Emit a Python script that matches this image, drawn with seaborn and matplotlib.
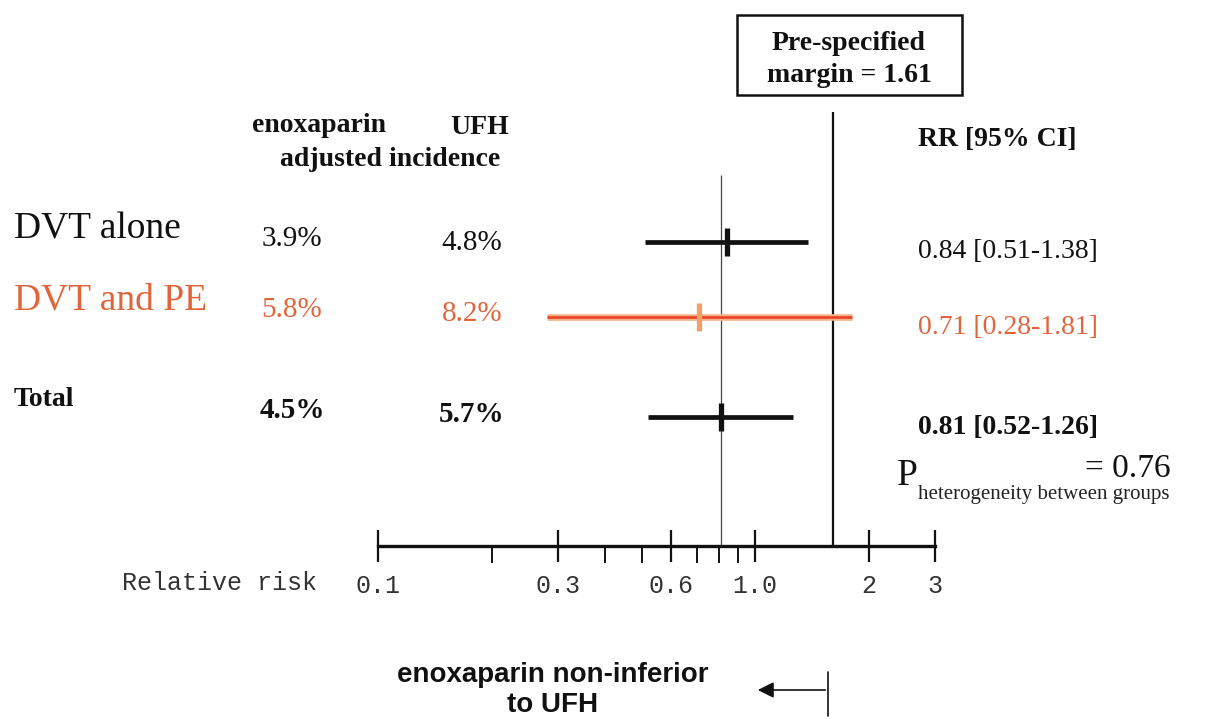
import matplotlib
matplotlib.use("Agg")
import matplotlib.pyplot as plt
import matplotlib.ticker as mticker
from matplotlib.patches import Rectangle
import pandas as pd
import seaborn as sns

# values
groups = ["DVT alone", "DVT and PE", "Total"]
enox_pct = ["3.9%", "5.8%", "4.5%"]
ufh_pct = ["4.8%", "8.2%", "5.7%"]
rr = [0.84, 0.71, 0.81]
ci_lo = [0.51, 0.28, 0.52]
ci_hi = [1.38, 1.81, 1.26]
margin = 1.61
p_het = 0.76
major_ticks = [0.1, 0.3, 0.6, 1.0, 2, 3]
major_labels = ["0.1", "0.3", "0.6", "1.0", "2", "3"]
minor_ticks = [0.2, 0.4, 0.5, 0.7, 0.8, 0.9]

# layout (pixel rows, figure is 1216 x 719)
W, H = 1216, 719
row_y = [242, 317, 417]      # forest rows
text_y = [247, 318, 418]     # table text rows
axis_y = 546
ORANGE = "#e2643a"
row_colors = ["#111111", ORANGE, "#111111"]
row_weights = ["normal", "normal", "bold"]

sns.set_theme(style="white")
plt.rcParams["font.family"] = ["Liberation Serif", "DejaVu Serif"]

fig = plt.figure(figsize=(W / 100, H / 100), dpi=100)

# forest axes: log x between 0.1 and 3, y in pixel rows
ax = fig.add_axes([378 / W, 0, 557 / W, 1])
ax.set_xscale("log")
ax.set_xlim(0.1, 3)
ax.set_ylim(H, 0)
ax.patch.set_alpha(0)
for side in ["top", "left", "right"]:
    ax.spines[side].set_visible(False)
ax.spines["bottom"].set_position(("data", axis_y))
ax.spines["bottom"].set_linewidth(2.4)
ax.spines["bottom"].set_color("#111111")
ax.xaxis.set_major_locator(mticker.FixedLocator(major_ticks))
ax.xaxis.set_major_formatter(mticker.FixedFormatter(major_labels))
ax.xaxis.set_minor_locator(mticker.FixedLocator(minor_ticks))
ax.xaxis.set_minor_formatter(mticker.NullFormatter())
ax.tick_params(axis="x", which="major", direction="inout", length=23, width=1.6,
               color="#111111", pad=9, labelsize=18, labelcolor="#333333",
               bottom=True)
ax.tick_params(axis="x", which="minor", direction="out", length=12, width=1.4,
               color="#111111", bottom=True)
for lab in ax.get_xticklabels():
    lab.set_family("Liberation Mono")
ax.set_yticks([])

# reference lines
ax.vlines(rr[-1], 175, axis_y, color="#444444", lw=0.9)
ax.vlines(margin, 112, axis_y, color="#111111", lw=1.6)

# confidence intervals
for i in range(len(groups)):
    if row_colors[i] == ORANGE:
        ax.hlines(row_y[i], ci_lo[i], ci_hi[i], color="#f5b48c", lw=4.8)
        ax.hlines(row_y[i], ci_lo[i], ci_hi[i], color="#e8482a", lw=2)
    else:
        ax.hlines(row_y[i], ci_lo[i], ci_hi[i], color="#111111", lw=3.4)

df = pd.DataFrame({"group": groups, "rr": rr, "y": row_y})
sns.scatterplot(data=df, x="rr", y="y", hue="group",
                palette={"DVT alone": "#111111", "DVT and PE": "#f0a068",
                         "Total": "#111111"},
                marker="|", s=420, linewidth=3.8, legend=False, ax=ax,
                zorder=5)
ax.set_xlabel("")
ax.set_ylabel("")

# overlay for the table text
tx = fig.add_axes([0, 0, 1, 1])
tx.set_xlim(0, W)
tx.set_ylim(H, 0)
tx.axis("off")
tx.patch.set_alpha(0)

tx.text(252, 125, "enoxaparin", fontsize=20, fontweight="bold",
        ha="left", va="center", color="#111111")
tx.text(480, 128, "UFH", fontsize=20, fontweight="bold",
        ha="center", va="center", color="#111111")
tx.text(390, 159, "adjusted incidence", fontsize=20, fontweight="bold",
        ha="center", va="center", color="#111111")
tx.text(918, 140, "RR [95% CI]", fontsize=20, fontweight="bold",
        ha="left", va="center", color="#111111")

label_sizes = [27, 27, 20]
for i, g in enumerate(groups):
    c, w = row_colors[i], row_weights[i]
    tx.text(14, text_y[i] - 18, g, fontsize=label_sizes[i], fontweight=w,
            color=c, ha="left", va="center")
    tx.text(292, text_y[i] - 8, enox_pct[i], fontsize=21, fontweight=w,
            color=c, ha="center", va="center")
    tx.text(472, text_y[i] - 4, ufh_pct[i], fontsize=21, fontweight=w,
            color=c, ha="center", va="center")
    tx.text(918, row_y[i] + 10, f"{rr[i]:.2f} [{ci_lo[i]:.2f}-{ci_hi[i]:.2f}]",
            fontsize=20, fontweight=w, color=c, ha="left", va="center")

# heterogeneity p value
tx.text(897, 476, "P", fontsize=27, ha="left", va="center", color="#111111")
tx.text(918, 494, "heterogeneity between groups", fontsize=15,
        ha="left", va="center", color="#222222")
tx.text(1085, 469, f"= {p_het:.2f}", fontsize=24, ha="left", va="center",
        color="#111111")

# pre-specified margin box
tx.add_patch(Rectangle((737, 15), 225, 80, fill=False, ec="#111111", lw=1.8))
tx.text(849, 43, "Pre-specified", fontsize=20, fontweight="bold",
        ha="center", va="center", color="#111111")
tx.text(849, 75, f"margin = {margin:.2f}", fontsize=20, fontweight="bold",
        ha="center", va="center", color="#111111")

# axis caption
tx.text(122, 583, "Relative risk", fontsize=18, family="Liberation Mono",
        ha="left", va="center", color="#333333")

# direction note
tx.text(553, 690, "enoxaparin non-inferior\nto UFH", fontsize=20,
        fontweight="bold", family="Liberation Sans", ha="center",
        va="center", linespacing=1.2, color="#111111")
tx.annotate("", xy=(755, 690), xytext=(828, 690),
            arrowprops=dict(arrowstyle="-|>", color="#111111", lw=1.2,
                            mutation_scale=24))
tx.plot([828, 828], [672, 716], color="#111111", lw=1.2)

fig.savefig("out.png", dpi=100)
